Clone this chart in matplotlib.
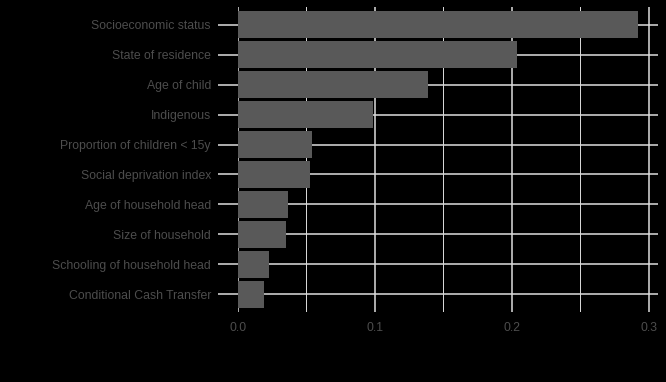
import matplotlib
matplotlib.use("Agg")
import matplotlib.pyplot as plt
from matplotlib.ticker import MultipleLocator

variables = [
    "Socioeconomic status",
    "State of residence",
    "Age of child",
    "Indigenous",
    "Proportion of children < 15y",
    "Social deprivation index",
    "Age of household head",
    "Size of household",
    "Schooling of household head",
    "Conditional Cash Transfer",
]
importance = [0.292, 0.204, 0.139, 0.0985, 0.054, 0.0523, 0.0367, 0.0348, 0.0226, 0.0187]

plt.rcParams["font.family"] = ["Liberation Sans", "DejaVu Sans"]

fig = plt.figure(figsize=(6.66, 3.82), dpi=100, facecolor="black")
ax = fig.add_axes([238 / 666, 1 - 312 / 382, (658 - 238) / 666, (312 - 7) / 382])
ax.set_facecolor("black")

pos = list(range(len(variables)))[::-1]
ax.barh(pos, importance, height=0.9, color="#595959", zorder=3)

ax.set_xlim(0, max(importance) * 1.05)
ax.set_ylim(-0.6, len(variables) - 0.4)
ax.set_yticks(pos)
ax.set_yticklabels(variables)
ax.xaxis.set_major_locator(MultipleLocator(0.1))
ax.xaxis.set_minor_locator(MultipleLocator(0.05))
ax.set_xticks([0.0, 0.1, 0.2, 0.3])
ax.set_xticklabels(["0.0", "0.1", "0.2", "0.3"])

ax.grid(True, which="major", color="#DDDDDD", linewidth=1.1, zorder=1)
ax.grid(True, which="minor", axis="x", color="#DDDDDD", linewidth=0.7, zorder=1)

for s in ax.spines.values():
    s.set_visible(False)

ax.tick_params(axis="y", length=14.5, width=1.1, color="#DDDDDD", pad=5,
               labelcolor="#4D4D4D", labelsize=8.8)
ax.tick_params(axis="x", which="both", length=0, pad=7,
               labelcolor="#4D4D4D", labelsize=8.8)

fig.savefig("out.png", dpi=100, facecolor="black")
